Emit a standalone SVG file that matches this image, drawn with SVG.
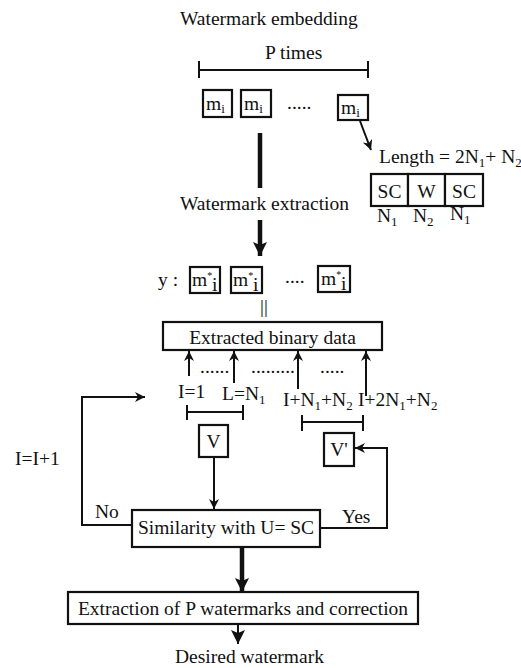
<svg xmlns="http://www.w3.org/2000/svg" width="521" height="668" viewBox="0 0 521 668">
<style>
text{font-family:"Liberation Serif","Times New Roman",serif;fill:#111;font-size:19.5px}
.s{font-size:13px}
.box{fill:#fff;stroke:#111;stroke-width:2.2}
.ln{fill:none;stroke:#111;stroke-width:2}
.th{fill:none;stroke:#111;stroke-width:4.5}
</style>
<defs>
<marker id="ah" markerUnits="userSpaceOnUse" markerWidth="12" markerHeight="12" refX="10" refY="5" orient="auto"><path d="M0,0 L10,5 L0,10 L3,5 Z" fill="#111"/></marker>
<marker id="ahb" markerUnits="userSpaceOnUse" markerWidth="16" markerHeight="16" refX="14" refY="7" orient="auto"><path d="M0,0 L14,7 L0,14 L3,7 Z" fill="#111"/></marker>
</defs>
<text x="180" y="25">Watermark embedding</text>
<g id="ptimes">
<text x="265" y="59">P times</text>
<path class="ln" d="M199,70 H368 M199,61 V78 M368,61 V78"/>
</g>
<g id="mboxes">
<rect class="box" x="203" y="90" width="29" height="27"/>
<text x="206" y="110" font-size="18">m<tspan class="s" dy="3">i</tspan></text>
<rect class="box" x="241" y="90" width="30" height="27"/>
<text x="244" y="110" font-size="18">m<tspan class="s" dy="3">i</tspan></text>
<text x="287" y="109">.....</text>
<rect class="box" x="338" y="95" width="30" height="25"/>
<text x="341" y="114" font-size="18">m<tspan class="s" dy="3">i</tspan></text>
</g>
<g id="length">
<text x="379" y="163" font-size="18">Length = 2N<tspan class="s" dy="4">1</tspan><tspan dy="-4">+ N</tspan><tspan class="s" dy="4">2</tspan></text>
<rect class="box" x="371" y="174" width="37" height="32" stroke-width="2.6"/>
<rect class="box" x="408" y="174" width="37" height="32" stroke-width="2.6"/>
<rect class="box" x="445" y="174" width="38" height="32" stroke-width="2.6"/>
<text x="389.5" y="198" text-anchor="middle">SC</text>
<text x="426.5" y="198" text-anchor="middle">W</text>
<text x="464" y="198" text-anchor="middle">SC</text>
<text x="377" y="222">N<tspan class="s" dy="4">1</tspan></text>
<text x="413" y="222">N<tspan class="s" dy="4">2</tspan></text>
<text x="450" y="220">N<tspan class="s" dy="4">1</tspan></text>
</g>
<text x="180" y="210">Watermark extraction</text>
<g id="ystar">
<text x="158" y="286">y :</text>
<rect class="box" x="190" y="267" width="30" height="26"/>
<text x="192" y="286" font-size="18">m<tspan font-size="10" dy="-7">*</tspan></text>
<text x="212" y="291" font-size="10">i</text>
<rect class="box" x="231" y="267" width="31" height="26"/>
<text x="233" y="286" font-size="18">m<tspan font-size="10" dy="-7">*</tspan></text>
<text x="253" y="291" font-size="10">i</text>
<text x="285" y="283">....</text>
<rect class="box" x="318" y="266" width="32" height="26"/>
<text x="321" y="285" font-size="18">m<tspan font-size="10" dy="-7">*</tspan></text>
<text x="341" y="290" font-size="10">i</text>
<text x="264" y="313" font-size="11" text-anchor="middle">||</text>
</g>
<g id="extracted">
<rect class="box" x="163" y="322" width="219" height="28"/>
<text x="272.5" y="344" text-anchor="middle">Extracted binary data</text>
</g>
<g id="indices">
<text x="200" y="373">......</text>
<text x="251" y="373">.........</text>
<text x="320" y="373">.....</text>
<text x="178" y="398">I=1</text>
<text x="222" y="400">L=N<tspan class="s" dy="4">1</tspan></text>
<text x="283" y="406">I+N<tspan class="s" dy="4">1</tspan><tspan dy="-4">+N</tspan><tspan class="s" dy="4">2</tspan></text>
<text x="358" y="406">I+2N<tspan class="s" dy="4">1</tspan><tspan dy="-4">+N</tspan><tspan class="s" dy="4">2</tspan></text>
<path class="ln" d="M187,412 H243 M187,405 V420 M243,405 V420"/>
<path class="ln" d="M302,422 H363 M302,415 V431 M363,415 V431"/>
</g>
<g id="V">
<rect class="box" x="199" y="425" width="29" height="32"/>
<text x="213.5" y="448" text-anchor="middle">V</text>
</g>
<g id="Vp">
<rect class="box" x="324" y="433" width="30" height="33"/>
<text x="339" y="456" text-anchor="middle">V'</text>
</g>
<g id="similarity">
<rect class="box" x="132" y="510" width="188" height="37"/>
<text x="226" y="534" text-anchor="middle">Similarity with U= SC</text>
</g>
<g id="extraction">
<rect class="box" x="68" y="592" width="350" height="32"/>
<text x="243" y="615" text-anchor="middle">Extraction of P watermarks and correction</text>
</g>
<text x="175" y="663">Desired watermark</text>
<text x="15" y="465">I=I+1</text>
<text x="95" y="518">No</text>
<text x="342" y="523">Yes</text>
<g id="connectors">
<line class="ln" x1="360" y1="121" x2="371" y2="150" marker-end="url(#ah)"/>
<line class="th" x1="260" y1="133" x2="260" y2="188"/>
<line class="th" x1="260" y1="220" x2="260" y2="256" marker-end="url(#ahb)"/>
<line class="ln" x1="189" y1="376" x2="189" y2="351" marker-end="url(#ah)"/>
<line class="ln" x1="234" y1="383" x2="234" y2="351" marker-end="url(#ah)"/>
<line class="ln" x1="298" y1="389" x2="298" y2="351" marker-end="url(#ah)"/>
<line class="ln" x1="366" y1="396" x2="366" y2="351" marker-end="url(#ah)"/>
<line class="ln" x1="214" y1="457" x2="214" y2="509" marker-end="url(#ah)"/>
<path class="ln" d="M131,525 H82 V397 H145" marker-end="url(#ah)"/>
<path class="ln" d="M320,528 H387 V448 H355" marker-end="url(#ah)"/>
<line class="th" x1="242" y1="548" x2="242" y2="592" marker-end="url(#ahb)"/>
<line class="ln" x1="238" y1="625" x2="238" y2="644" stroke-width="3" marker-end="url(#ahb)"/>
</g>
</svg>
